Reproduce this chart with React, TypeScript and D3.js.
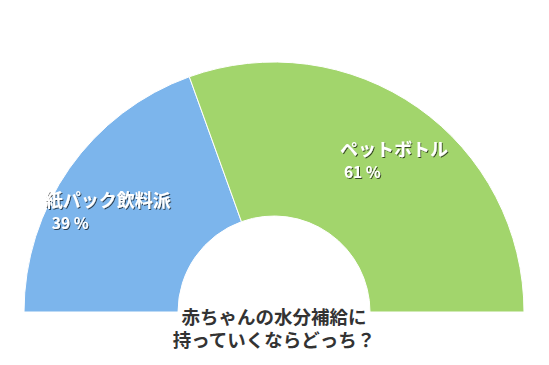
import { useMemo } from 'react'
import * as d3 from 'd3'

const categories = ['紙パック飲料派', 'ペットボトル']
const shares = [39, 61]
const colors = ['#7cb5ec', '#a2d56c']
const titleLines = ['赤ちゃんの水分補給に', '持っていくならどっち？']

const W = 549
const H = 365
const FONT = '"Noto Sans CJK JP", "Noto Sans", sans-serif'

export default function App() {
  const cx = 274
  const cy = 312
  const outerR = 250
  const innerR = 96

  const arcs = useMemo(() => {
    const pie = d3
      .pie<number>()
      .sort(null)
      .startAngle(-Math.PI / 2)
      .endAngle(Math.PI / 2)
    return pie(shares)
  }, [])

  const arc = d3.arc<d3.PieArcDatum<number>>().innerRadius(innerR).outerRadius(outerR)
  const labelArc = d3.arc<d3.PieArcDatum<number>>().innerRadius(186).outerRadius(186)

  // label block offsets relative to the slice label point
  const nameDx = [-77, -41]
  const nameDy = [2, -4]

  return (
    <div style={{ position: 'absolute', left: 0, top: 0, width: W, height: H }}>
      <svg width={W} height={H} style={{ display: 'block', background: '#fff' }}>
        <defs>
          <filter id="shadow" x="-10%" y="-30%" width="130%" height="160%">
            <feDropShadow dx="1" dy="1" stdDeviation="0.6" floodColor="#000" floodOpacity="0.65" />
          </filter>
        </defs>
        <g transform={`translate(${cx},${cy})`}>
          {arcs.map((a, i) => (
            <path key={categories[i]} d={arc(a) || ''} fill={colors[i]} stroke="#fff" strokeWidth={1} />
          ))}
          {arcs.map((a, i) => {
            const [lx, ly] = labelArc.centroid(a)
            const x = lx + nameDx[i]
            const y = ly + nameDy[i]
            return (
              <g key={'l' + i} filter="url(#shadow)" fill="#fff" fontFamily={FONT} fontWeight="bold">
                <text x={x} y={y} fontSize={18}>
                  {categories[i]}
                </text>
                <text x={x + (i === 0 ? 7 : 4)} y={y + 22} fontSize={15.5}>
                  {shares[i]} %
                </text>
              </g>
            )
          })}
        </g>
        <g fontFamily={FONT} fontWeight="bold" fontSize={18.5} fill="#333" textAnchor="middle">
          {titleLines.map((t, i) => (
            <text key={t} x={cx} y={323.5 + i * 23}>
              {t}
            </text>
          ))}
        </g>
      </svg>
    </div>
  )
}
